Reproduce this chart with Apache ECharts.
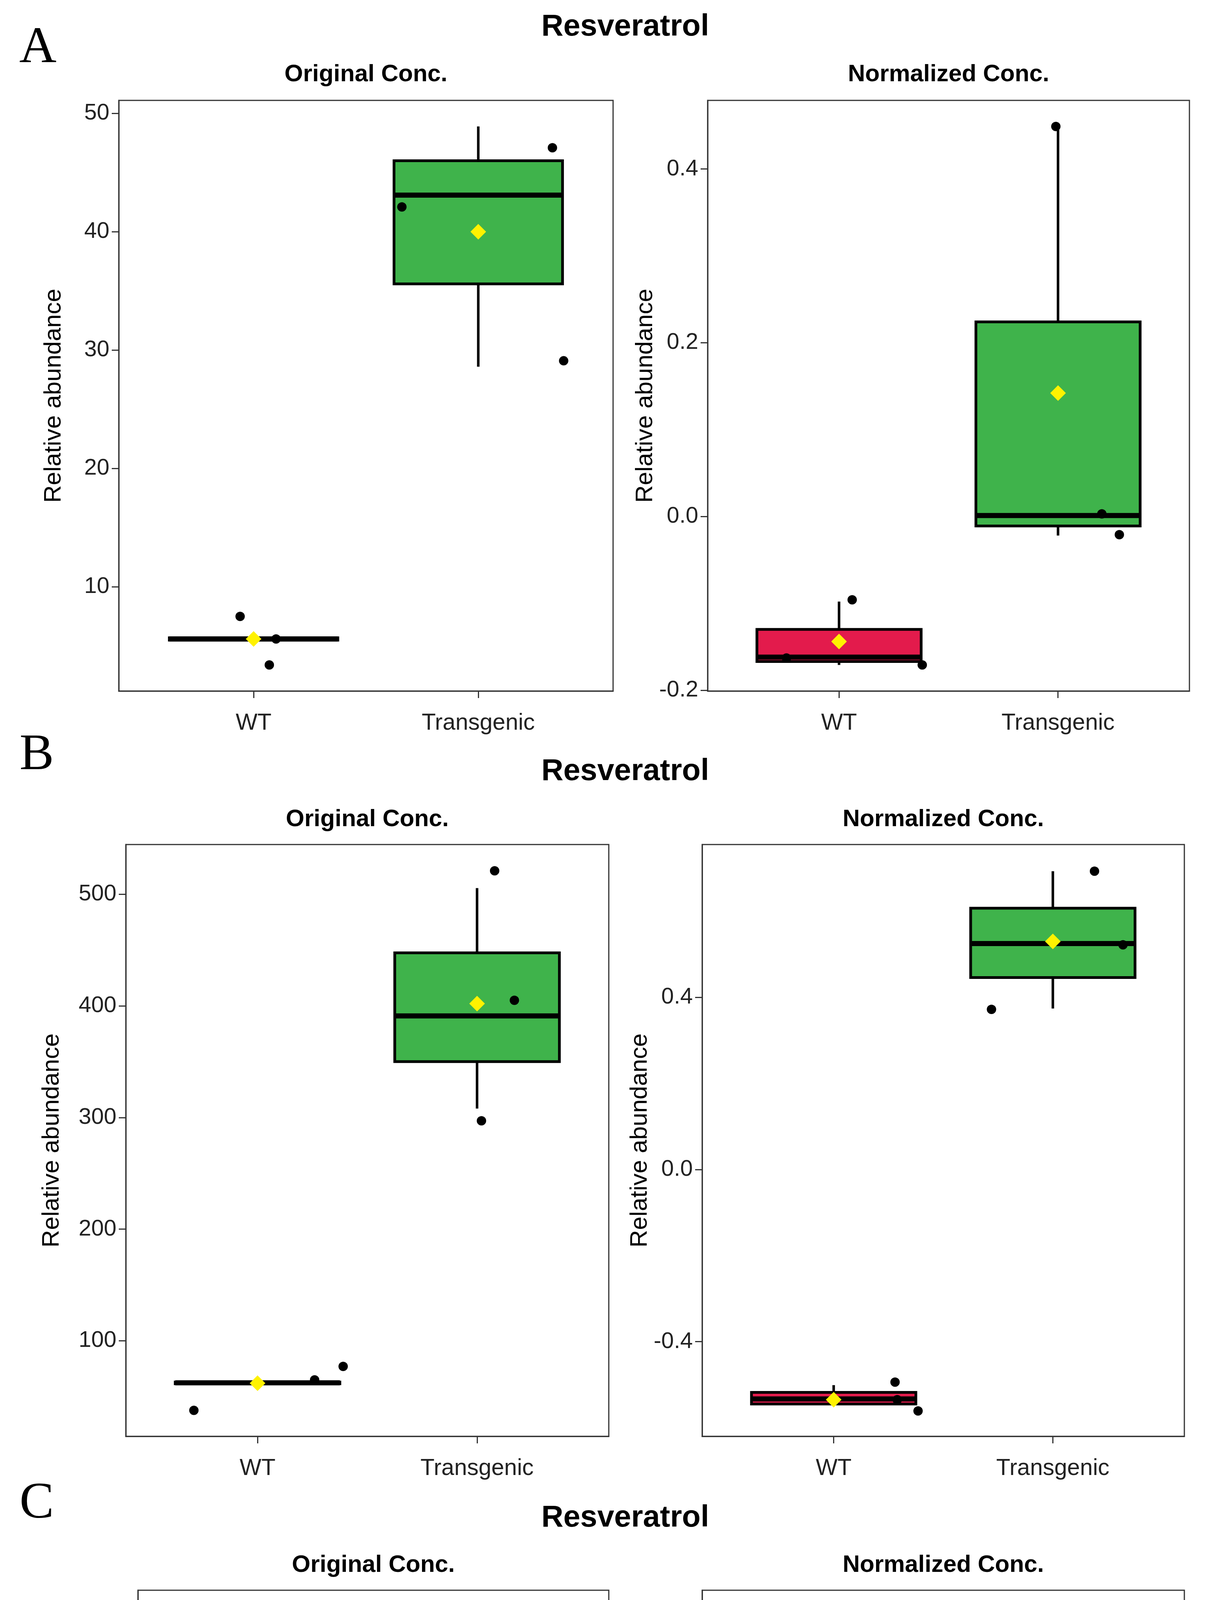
<!DOCTYPE html>
<html>
<head>
<meta charset="utf-8" />
<title>Resveratrol</title>
<script src="https://cdn.jsdelivr.net/npm/echarts@6.0.0/dist/echarts.min.js"></script>
<style>
  html, body { margin: 0; padding: 0; background: #fff; }
  #chart { width: 3112px; height: 5725px; }
</style>
</head>
<body>
<div id="chart"></div>
<script type="text/javascript">
    // groups on the x axis (positions 1 and 2)
    var groups = ['WT', 'Transgenic'];

    // box stats: [low whisker, Q1, median, Q3, high whisker]
    // A - original
    var aOrigWT = [5.5, 5.5, 5.6, 5.7, 5.7];
    var aOrigTG = [28.6, 35.6, 43.1, 46.0, 48.9];
    var aOrigMean = [5.6, 40.0];
    var aOrigPts = [[0.94, 7.5], [1.10, 5.6], [1.07, 3.4], [1.66, 42.1], [2.33, 47.1], [2.38, 29.1]];
    var aOrigTicks = [10, 20, 30, 40, 50];
    var aOrigRange = [1.2, 51.1];
    // A - normalized
    var aNormWT = [-0.171, -0.167, -0.162, -0.130, -0.098];
    var aNormTG = [-0.022, -0.011, 0.001, 0.224, 0.449];
    var aNormMean = [-0.144, 0.142];
    var aNormPts = [[0.76, -0.163], [1.06, -0.096], [1.38, -0.171], [1.99, 0.449], [2.20, 0.003], [2.28, -0.021]];
    var aNormTicks = [-0.2, 0, 0.2, 0.4];
    var aNormRange = [-0.201, 0.479];

    // B - original
    var bOrigWT = [61.5, 61.5, 62.3, 63, 63];
    var bOrigTG = [308, 350, 391, 447.5, 505.5];
    var bOrigMean = [62, 402];
    var bOrigPts = [[0.71, 37.7], [1.26, 65], [1.39, 77], [2.02, 297], [2.08, 521], [2.17, 405]];
    var bOrigTicks = [100, 200, 300, 400, 500];
    var bOrigRange = [14.4, 544.5];
    // B - normalized
    var bNormWT = [-0.545, -0.545, -0.533, -0.518, -0.501];
    var bNormTG = [0.374, 0.446, 0.525, 0.607, 0.693];
    var bNormMean = [-0.535, 0.530];
    var bNormPts = [[1.28, -0.494], [1.29, -0.535], [1.385, -0.561], [1.72, 0.372], [2.19, 0.693], [2.32, 0.522]];
    var bNormTicks = [-0.4, 0, 0.4];
    var bNormRange = [-0.62, 0.755];

    // C - original
    var cOrigWT = [289, 289, 295, 300, 300];
    var cOrigTG = [1483, 1594, 1707, 1732, 1752];
    var cOrigMean = [295, 1649];
    var cOrigPts = [[0.67, 280], [0.72, 308], [1.25, 289], [1.80, 1720], [1.90, 1479], [2.23, 1750]];
    var cOrigTicks = [500, 1000, 1500];
    var cOrigRange = [208.6, 1826];
    // C - normalized
    var cNormWT = [-0.312, -0.311, -0.309, -0.287, -0.267];
    var cNormTG = [-0.052, 0.188, 0.429, 0.468, 0.508];
    var cNormMean = [-0.298, 0.295];
    var cNormPts = [[1.0, -0.312], [1.15, -0.309], [1.27, -0.267], [1.75, -0.053], [2.21, 0.428], [2.22, 0.510]];
    var cNormTicks = [-0.2, 0, 0.2, 0.4];
    var cNormRange = [-0.352, 0.551];

    var FILLS = ['#E31B4C', '#3FB34B'];
    var SANS = 'Liberation Sans, Arial, sans-serif';
    var SERIF = 'Liberation Serif, Times New Roman, serif';

    // panel layout (pixels) - kept apart from the data
    var panels = [
        { wt: aOrigWT, tg: aOrigTG, mean: aOrigMean, pts: aOrigPts, ticks: aOrigTicks, range: aOrigRange, dec: 0, left: 304, width: 1265, top: 257, height: 1512, nameGap: 135, sub: 'Original Conc.' },
        { wt: aNormWT, tg: aNormTG, mean: aNormMean, pts: aNormPts, ticks: aNormTicks, range: aNormRange, dec: 1, left: 1811, width: 1233, top: 257, height: 1512, nameGap: 120, sub: 'Normalized Conc.' },
        { wt: bOrigWT, tg: bOrigTG, mean: bOrigMean, pts: bOrigPts, ticks: bOrigTicks, range: bOrigRange, dec: 0, left: 322, width: 1236, top: 2162, height: 1515, nameGap: 158, sub: 'Original Conc.' },
        { wt: bNormWT, tg: bNormTG, mean: bNormMean, pts: bNormPts, ticks: bNormTicks, range: bNormRange, dec: 1, left: 1797, width: 1234, top: 2162, height: 1515, nameGap: 113, sub: 'Normalized Conc.' },
        { wt: cOrigWT, tg: cOrigTG, mean: cOrigMean, pts: cOrigPts, ticks: cOrigTicks, range: cOrigRange, dec: 0, left: 353, width: 1205, top: 4071, height: 1513, nameGap: 198, sub: 'Original Conc.' },
        { wt: cNormWT, tg: cNormTG, mean: cNormMean, pts: cNormPts, ticks: cNormTicks, range: cNormRange, dec: 1, left: 1797, width: 1234, top: 4071, height: 1513, nameGap: 113, sub: 'Normalized Conc.' }
    ];

    // row headers: title y, letter
    var rows = [
        { letter: 'A', lx: 97, ly: 124, ty: 69, sy: 191 },
        { letter: 'B', lx: 94, ly: 1934, ty: 1975, sy: 2098 },
        { letter: 'C', lx: 94, ly: 3850, ty: 3886, sy: 4007 }
    ];

    function txt(text, x, y, size, weight, family) {
        return {
            type: 'text', x: x, y: y, silent: true,
            style: {
                text: text, fontSize: size, fontWeight: weight, fontFamily: family, fill: '#000',
                align: 'center', verticalAlign: 'middle', textAlign: 'center', textVerticalAlign: 'middle'
            }
        };
    }

    // box + whiskers drawn through the axes
    function renderBox(params, api) {
        var x = api.value(0);
        var hw = 0.375;
        var yLow = api.coord([x, api.value(1)])[1];
        var yQ1 = api.coord([x, api.value(2)])[1];
        var yMed = api.coord([x, api.value(3)])[1];
        var yQ3 = api.coord([x, api.value(4)])[1];
        var yHigh = api.coord([x, api.value(5)])[1];
        var xc = api.coord([x, api.value(3)])[0];
        var xl = api.coord([x - hw, api.value(3)])[0];
        var xr = api.coord([x + hw, api.value(3)])[0];
        var fill = FILLS[api.value(6)];
        return {
            type: 'group',
            children: [
                { type: 'line', shape: { x1: xc, y1: yHigh, x2: xc, y2: yQ3 }, style: { stroke: '#000', lineWidth: 6.5 } },
                { type: 'line', shape: { x1: xc, y1: yQ1, x2: xc, y2: yLow }, style: { stroke: '#000', lineWidth: 6.5 } },
                { type: 'rect', shape: { x: xl, y: yQ3, width: xr - xl, height: yQ1 - yQ3 }, style: { fill: fill, stroke: '#000', lineWidth: 7 } },
                { type: 'line', shape: { x1: xl, y1: yMed, x2: xr, y2: yMed }, style: { stroke: '#000', lineWidth: 13, lineCap: 'butt' } }
            ]
        };
    }

    var grids = [], xAxes = [], yAxes = [], series = [], graphics = [];

    rows.forEach(function (r) {
        graphics.push(txt('Resveratrol', 1600, r.ty, 78, 'bold', SANS));
        graphics.push(txt(r.letter, r.lx, r.ly, 132, 'normal', SERIF));
    });

    panels.forEach(function (p, i) {
        var row = rows[Math.floor(i / 2)];
        graphics.push(txt(p.sub, p.left + p.width / 2, row.sy, 61, 'bold', SANS));

        grids.push({
            left: p.left, top: p.top, width: p.width, height: p.height,
            show: true, borderColor: '#333', borderWidth: 3, backgroundColor: '#fff'
        });
        xAxes.push({
            type: 'value', gridIndex: i, min: 0.4, max: 2.6,
            axisLine: { show: true, onZero: false, lineStyle: { color: '#333', width: 3 } },
            axisTick: { show: true, length: 18, customValues: [1, 2], lineStyle: { color: '#333', width: 3 } },
            axisLabel: {
                customValues: [1, 2], margin: 53, fontSize: 59, color: '#222', fontFamily: SANS,
                formatter: function (v) { return groups[Math.round(v) - 1]; }
            },
            splitLine: { show: false }
        });
        yAxes.push({
            type: 'value', gridIndex: i, min: p.range[0], max: p.range[1],
            name: 'Relative abundance', nameLocation: 'middle', nameRotate: 90, nameGap: p.nameGap,
            nameTextStyle: { fontSize: 62, color: '#000', fontFamily: SANS },
            axisLine: { show: true, onZero: false, lineStyle: { color: '#333', width: 3 } },
            axisTick: { show: true, length: 18, customValues: p.ticks, lineStyle: { color: '#333', width: 3 } },
            axisLabel: {
                customValues: p.ticks, margin: 24, fontSize: 58, color: '#222', fontFamily: SANS,
                formatter: (function (dec) { return function (v) { return Number(v).toFixed(dec); }; })(p.dec)
            },
            splitLine: { show: false }
        });

        series.push({
            type: 'custom', xAxisIndex: i, yAxisIndex: i, z: 2,
            renderItem: renderBox,
            encode: { x: 0, y: [1, 2, 3, 4, 5] },
            data: [[1].concat(p.wt, [0]), [2].concat(p.tg, [1])]
        });
        series.push({
            type: 'scatter', xAxisIndex: i, yAxisIndex: i, z: 3,
            symbol: 'circle', symbolSize: 24,
            itemStyle: { color: '#000', opacity: 1 },
            data: p.pts
        });
        series.push({
            type: 'scatter', xAxisIndex: i, yAxisIndex: i, z: 4,
            symbol: 'diamond', symbolSize: 40,
            itemStyle: { color: '#FFF200', opacity: 1 },
            data: [[1, p.mean[0]], [2, p.mean[1]]]
        });
    });

    var myChart = echarts.init(document.getElementById('chart'), null, { renderer: 'canvas' });
    myChart.setOption({
        animation: false,
        backgroundColor: '#fff',
        grid: grids,
        xAxis: xAxes,
        yAxis: yAxes,
        series: series,
        graphic: graphics
    });
</script>
</body>
</html>
